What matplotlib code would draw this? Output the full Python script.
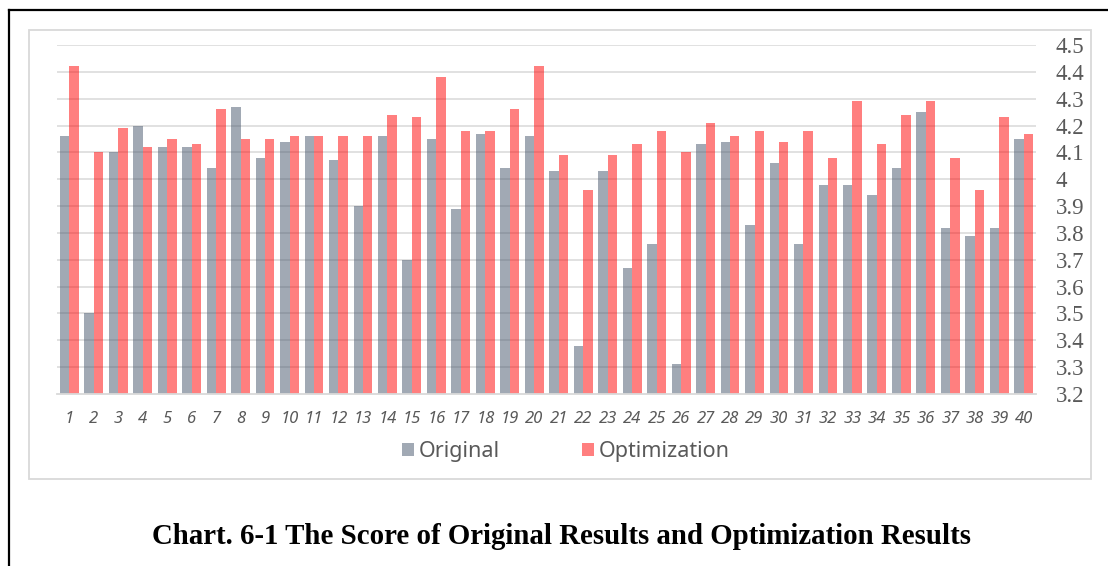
import matplotlib
matplotlib.use("Agg")
import matplotlib.pyplot as plt
from matplotlib.patches import Rectangle, Patch
from matplotlib.lines import Line2D
import numpy as np

# Scores for the 40 evaluated samples
categories = [str(i) for i in range(1, 41)]
original = [4.16, 3.50, 4.10, 4.20, 4.12, 4.12, 4.04, 4.27, 4.08, 4.14,
            4.16, 4.07, 3.90, 4.16, 3.70, 4.15, 3.89, 4.17, 4.04, 4.16,
            4.03, 3.38, 4.03, 3.67, 3.76, 3.31, 4.13, 4.14, 3.83, 4.06,
            3.76, 3.98, 3.98, 3.94, 4.04, 4.25, 3.82, 3.79, 3.82, 4.15]
optimization = [4.42, 4.10, 4.19, 4.12, 4.15, 4.13, 4.26, 4.15, 4.15, 4.16,
                4.16, 4.16, 4.16, 4.24, 4.23, 4.38, 4.18, 4.18, 4.26, 4.42,
                4.09, 3.96, 4.09, 4.13, 4.18, 4.10, 4.21, 4.16, 4.18, 4.14,
                4.18, 4.08, 4.29, 4.13, 4.24, 4.29, 4.08, 3.96, 4.23, 4.17]
y_ticks = [3.2, 3.3, 3.4, 3.5, 3.6, 3.7, 3.8, 3.9, 4.0, 4.1, 4.2, 4.3, 4.4, 4.5]
y_tick_labels = ["3.2", "3.3", "3.4", "3.5", "3.6", "3.7", "3.8", "3.9", "4",
                 "4.1", "4.2", "4.3", "4.4", "4.5"]
series_names = ["Original", "Optimization"]

W, H = 1108, 566
fig = plt.figure(figsize=(W / 100, H / 100), dpi=100)

def fx(px):
    return px / W

def fy(py):
    return 1 - py / H

# outer black frame (top and left edges visible)
fig.add_artist(Line2D([fx(9), 1.0], [fy(10), fy(10)], color="black", lw=1.6,
                      transform=fig.transFigure))
fig.add_artist(Line2D([fx(9), fx(9)], [fy(10), 0.0], color="black", lw=1.6,
                      transform=fig.transFigure))

# light chart-area border
fig.add_artist(Rectangle((fx(29), fy(479)), fx(1091) - fx(29), fy(30) - fy(479),
                         transform=fig.transFigure, fill=False,
                         edgecolor="#D9D9D9", lw=1.3))

ax = fig.add_axes([fx(57), fy(394), fx(1036) - fx(57), fy(45) - fy(394)])

gray = "#44546A"
red = "#FF0000"
x = np.arange(len(categories))
bw = 0.385
ax.bar(x - bw / 2, original, width=bw, color=gray, alpha=0.5,
       zorder=3, label=series_names[0])
ax.bar(x + bw / 2, optimization, width=bw, color=red, alpha=0.5,
       zorder=3, label=series_names[1])

ax.set_xlim(-0.5, len(categories) - 0.5)
ax.set_ylim(3.2, 4.5)
ax.set_yticks(y_ticks)
ax.set_yticklabels(y_tick_labels, fontfamily="Liberation Serif",
                   fontsize=16.5, color="#595959")
ax.yaxis.tick_right()
ax.tick_params(axis="y", length=0, pad=14)
ax.set_xticks(x)
ax.set_xticklabels(categories, fontfamily="Noto Sans", style="italic",
                   fontsize=12, color="#595959")
ax.tick_params(axis="x", length=0, pad=12)

for v in y_ticks[1:]:
    ax.axhline(v, color="#D9D9D9", lw=1.1, zorder=1)
for s in ["top", "left", "right"]:
    ax.spines[s].set_visible(False)
ax.spines["bottom"].set_color("#D9D9D9")
ax.spines["bottom"].set_linewidth(1.3)
ax.spines["bottom"].set_zorder(4)

handles = [Patch(facecolor=gray, alpha=0.5, edgecolor="none"),
           Patch(facecolor=red, alpha=0.5, edgecolor="none")]
fig.legend(handles, series_names, loc="center", bbox_to_anchor=(fx(566), fy(452)),
           ncol=2, frameon=False, handlelength=0.55, handleheight=0.55,
           handletextpad=0.25, columnspacing=3.8,
           prop={"family": "Noto Sans", "size": 15.5}, labelcolor="#595959")

fig.text(fx(562), fy(537), "Chart. 6-1 The Score of Original Results and Optimization Results",
         ha="center", va="center", fontfamily="Liberation Serif",
         fontweight="bold", fontsize=20.8, color="black")

fig.savefig("out.png", dpi=100)
